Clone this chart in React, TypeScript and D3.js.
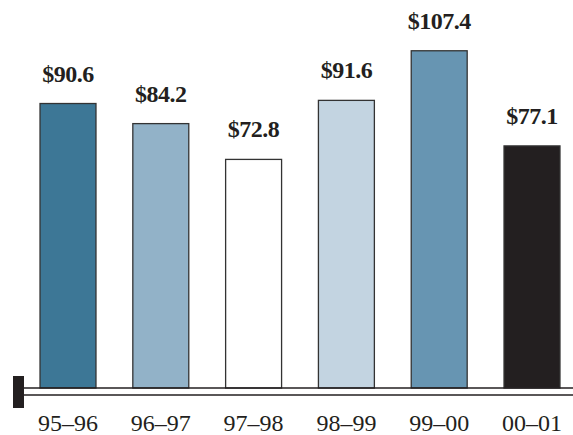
import React from "react";
import * as d3 from "d3";

const categories = ["95–96", "96–97", "97–98", "98–99", "99–00", "00–01"];
const values = [90.6, 84.2, 72.8, 91.6, 107.4, 77.1];
const valueLabels = ["$90.6", "$84.2", "$72.8", "$91.6", "$107.4", "$77.1"];
const colors = ["#3d7796", "#92b2c8", "#ffffff", "#c3d4e1", "#6795b2", "#231f20"];

const W = 573;
const H = 435;
const baseY = 388;

export default function App() {
  const x = d3
    .scaleBand<string>()
    .domain(categories)
    .range([21.6, 578.4])
    .paddingInner(0.397)
    .paddingOuter(0.1985);
  const y = d3.scaleLinear().domain([0, 110]).range([baseY, baseY - 110 * 3.14]);
  const font = '"Liberation Serif", Tinos, "Times New Roman", Times, serif';
  return (
    <svg
      width={W}
      height={H}
      style={{ position: "absolute", left: 0, top: 0, background: "#fff", fontFamily: font }}
    >
      {categories.map((c, i) => (
        <g key={c}>
          <rect
            x={x(c)!}
            y={y(values[i])}
            width={x.bandwidth()}
            height={baseY - y(values[i])}
            fill={colors[i]}
            stroke="#333"
            strokeWidth={1.3}
          />
          <text
            x={x(c)! + x.bandwidth() / 2}
            y={y(values[i]) - 22}
            textAnchor="middle"
            style={{ fontFamily: font, fontWeight: "bold", fontSize: 24 }}
            letterSpacing={-0.5}
            fill="#231f20"
          >
            {valueLabels[i]}
          </text>
          <text
            x={x(c)! + x.bandwidth() / 2}
            y={431}
            textAnchor="middle"
            style={{ fontFamily: font, fontSize: 24 }}
            fill="#231f20"
          >
            {c}
          </text>
        </g>
      ))}
      <line x1={24} x2={W} y1={baseY} y2={baseY} stroke="#231f20" strokeWidth={1.6} />
      <line x1={24} x2={W} y1={395} y2={395} stroke="#231f20" strokeWidth={1.6} />
      <rect x={13} y={376} width={11} height={32} fill="#231f20" />
    </svg>
  );
}
